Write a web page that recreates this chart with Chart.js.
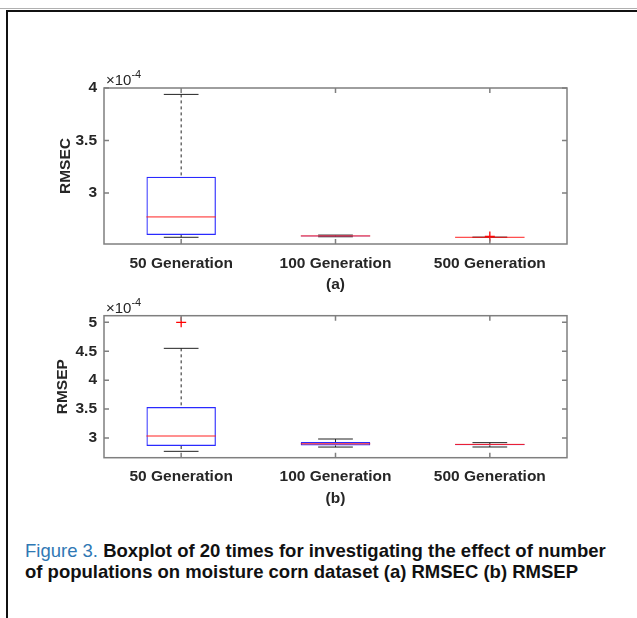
<!DOCTYPE html>
<html>
<head>
<meta charset="utf-8">
<script src="https://cdn.jsdelivr.net/npm/chart.js@4.4.1/dist/chart.umd.min.js"></script>
<style>
body{margin:0;background:#fff;width:637px;height:618px;overflow:hidden;position:relative;font-family:"Liberation Sans",Arial,sans-serif;}
#topRule{position:absolute;left:0;top:8px;width:637px;border-top:1px solid #b0b0b0;}
#frame{position:absolute;left:6px;top:10px;width:640px;height:620px;border-left:2px solid #111;border-top:2px solid #111;}
#wrapA{position:absolute;left:0;top:0;}
#wrapB{position:absolute;left:0;top:296px;}
#caption{position:absolute;left:25px;top:540px;font-size:18.5px;line-height:21px;color:#111;font-weight:bold;white-space:nowrap;}
#caption .fig{color:#2f78b4;font-weight:normal;}
</style>
</head>
<body>
<div id="topRule"></div>
<div id="frame"></div>
<div id="wrapA"><canvas id="chartA" width="637" height="300"></canvas></div>
<div id="wrapB"><canvas id="chartB" width="637" height="220"></canvas></div>
<div id="caption"><span class="fig">Figure 3.</span> Boxplot of 20 times for investigating the effect of number<br>of populations on moisture corn dataset (a) RMSEC (b) RMSEP</div>
<script>
// values in units of 1e-4
const categories = ['50 Generation', '100 Generation', '500 Generation'];

const rmsecLow = [2.577, 2.582, 2.577];
const rmsecQ1 = [2.599, 2.585, 2.577];
const rmsecMedian = [2.771, 2.590, 2.577];
const rmsecQ3 = [3.153, 2.595, 2.577];
const rmsecHigh = [3.939, 2.598, 2.577];
const rmsecOutliers = [[], [], [2.585]];
const rmsecTicks = [3, 3.5, 4];

const rmsepLow = [2.770, 2.844, 2.845];
const rmsepQ1 = [2.862, 2.872, 2.875];
const rmsepMedian = [3.035, 2.900, 2.890];
const rmsepQ3 = [3.536, 2.930, 2.895];
const rmsepHigh = [4.550, 2.983, 2.920];
const rmsepOutliers = [[5.0], [], []];
const rmsepTicks = [3, 3.5, 4, 4.5, 5];

const AXIS_COLOR = '#7f7f7f';
const TEXT_COLOR = '#262626';
const FONT = '"Liberation Sans", Arial';

// whiskers + caps under the boxes, medians on top
const boxExtras = {
    id: 'boxExtras',
    beforeDatasetsDraw(chart, args, o) {
        const { ctx, scales: { x, y } } = chart;
        const half = chart.getDatasetMeta(0).data[0].width / 2;
        ctx.save();
        ctx.lineWidth = 1;
        ctx.strokeStyle = '#222';
        o.low.forEach((lo, i) => {
            const cx = x.getPixelForValue(i);
            ctx.setLineDash([3, 3]);
            ctx.beginPath();
            ctx.moveTo(cx, y.getPixelForValue(o.high[i]));
            ctx.lineTo(cx, y.getPixelForValue(o.q3[i]));
            ctx.moveTo(cx, y.getPixelForValue(o.q1[i]));
            ctx.lineTo(cx, y.getPixelForValue(lo));
            ctx.stroke();
            ctx.setLineDash([]);
            ctx.beginPath();
            [lo, o.high[i]].forEach(v => {
                const py = y.getPixelForValue(v);
                ctx.moveTo(cx - half / 2, py);
                ctx.lineTo(cx + half / 2, py);
            });
            ctx.stroke();
        });
        ctx.restore();
    },
    afterDatasetsDraw(chart, args, o) {
        const { ctx, scales: { x, y } } = chart;
        const half = chart.getDatasetMeta(0).data[0].width / 2;
        ctx.save();
        ctx.strokeStyle = '#ff2020';
        ctx.lineWidth = 1;
        o.median.forEach((m, i) => {
            const cx = x.getPixelForValue(i);
            const py = y.getPixelForValue(m);
            ctx.beginPath();
            ctx.moveTo(cx - half, py);
            ctx.lineTo(cx + half, py);
            ctx.stroke();
        });
        ctx.restore();
    },
    afterDraw(chart) {
        const { ctx, chartArea: a, scales: { x, y } } = chart;
        ctx.save();
        ctx.strokeStyle = AXIS_COLOR;
        ctx.lineWidth = 1.5;
        ctx.strokeRect(a.left, a.top, a.right - a.left, a.bottom - a.top);
        ctx.beginPath();
        y.ticks.forEach(t => {
            const py = y.getPixelForValue(t.value);
            ctx.moveTo(a.left, py); ctx.lineTo(a.left + 5, py);
            ctx.moveTo(a.right, py); ctx.lineTo(a.right - 5, py);
        });
        categories.forEach((c, i) => {
            const px = x.getPixelForValue(i);
            ctx.moveTo(px, a.bottom); ctx.lineTo(px, a.bottom - 5);
            ctx.moveTo(px, a.top); ctx.lineTo(px, a.top + 5);
        });
        ctx.stroke();
        // exponent label
        ctx.fillStyle = TEXT_COLOR;
        ctx.textBaseline = 'alphabetic';
        ctx.font = '15px ' + FONT;
        ctx.fillText('\u00d710', a.left + 2, a.top - 3);
        const w = ctx.measureText('\u00d710').width;
        ctx.font = '11px ' + FONT;
        ctx.fillText('-4', a.left + 2 + w, a.top - 10);
        ctx.restore();
    }
};

function makeBoxChart(canvasId, yLabel, xLabel, low, q1, median, q3, high, outliers, ticks, yMin, yMax, padTop, padBottom, titlePad) {
    const outlierPoints = [];
    outliers.forEach((list, i) => list.forEach(v => outlierPoints.push({ x: categories[i], y: v })));
    const boldFont = { size: 15.5, weight: 'bold', family: FONT };

    return new Chart(document.getElementById(canvasId), {
        type: 'bar',
        data: {
            labels: categories,
            datasets: [{
                data: q1.map((v, i) => [v, q3[i]]),
                backgroundColor: 'rgba(0,0,0,0)',
                borderColor: '#2a2aff',
                borderWidth: 1.2,
                borderSkipped: false,
                barPercentage: 0.45,
                categoryPercentage: 1
            }, {
                type: 'line',
                data: outlierPoints,
                showLine: false,
                pointStyle: 'cross',
                pointRadius: 5,
                pointBorderColor: '#ff0000',
                pointBorderWidth: 1.3
            }]
        },
        options: {
            responsive: false,
            animation: false,
            layout: { padding: { left: 50, right: 70, top: padTop, bottom: padBottom } },
            plugins: {
                legend: { display: false },
                tooltip: { enabled: false },
                boxExtras: { low, q1, median, q3, high }
            },
            scales: {
                x: {
                    grid: { display: false, drawTicks: false },
                    border: { display: false },
                    ticks: { color: TEXT_COLOR, font: boldFont, padding: 10 },
                    title: { display: true, text: xLabel, color: TEXT_COLOR, font: boldFont, padding: 0 },
                    afterFit(scale) { scale.height = 50; }
                },
                y: {
                    min: yMin,
                    max: yMax,
                    grid: { display: false, drawTicks: false },
                    border: { display: false },
                    afterBuildTicks(scale) { scale.ticks = ticks.map(v => ({ value: v })); },
                    ticks: { color: TEXT_COLOR, font: boldFont, padding: 7, callback: v => String(v) },
                    title: { display: true, text: yLabel, color: TEXT_COLOR, font: boldFont, padding: { top: titlePad, bottom: 0 } },
                    afterFit(scale) { scale.width = 54; }
                }
            }
        },
        plugins: [boxExtras]
    });
}

makeBoxChart('chartA', 'RMSEC', '(a)', rmsecLow, rmsecQ1, rmsecMedian, rmsecQ3, rmsecHigh, rmsecOutliers, rmsecTicks, 2.513, 4.0, 88, 6, 6);
makeBoxChart('chartB', 'RMSEP', '(b)', rmsepLow, rmsepQ1, rmsepMedian, rmsepQ3, rmsepHigh, rmsepOutliers, rmsepTicks, 2.66, 5.114, 19.7, 8.3, 3);
</script>
</body>
</html>
